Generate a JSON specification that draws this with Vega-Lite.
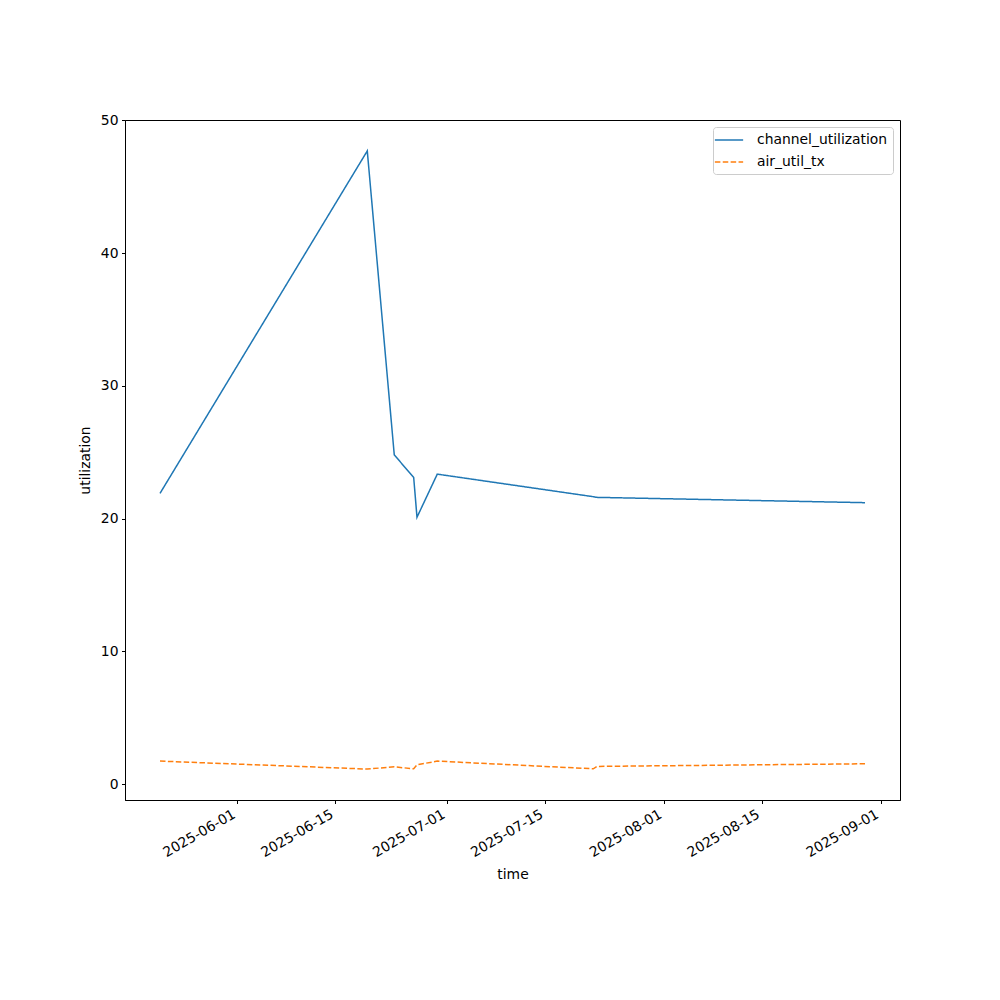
{
  "$schema": "https://vega.github.io/schema/vega-lite/v6.json",
  "width": 775,
  "height": 680,
  "autosize": {"type": "none"},
  "padding": {"left": 125, "top": 120, "right": 100, "bottom": 200},
  "background": "white",
  "config": {
    "font": "DejaVu Sans",
    "view": {"stroke": "black", "strokeWidth": 1},
    "axis": {
      "grid": false,
      "domainColor": "black",
      "domainWidth": 1,
      "tickColor": "black",
      "tickSize": 3.5,
      "tickWidth": 1,
      "labelColor": "black",
      "labelFontSize": 13.9,
      "labelPadding": 3.5,
      "titleColor": "black",
      "titleFontSize": 13.9,
      "titleFontWeight": "normal"
    }
  },
  "data": {
    "values": [
      {"time": "2025-05-20T22:00:00Z", "series": "channel_utilization", "utilization": 21.9},
      {"time": "2025-06-19T13:40:00Z", "series": "channel_utilization", "utilization": 47.7},
      {"time": "2025-06-23T10:20:00Z", "series": "channel_utilization", "utilization": 24.8},
      {"time": "2025-06-26T05:00:00Z", "series": "channel_utilization", "utilization": 23.1},
      {"time": "2025-06-26T16:20:00Z", "series": "channel_utilization", "utilization": 20.1},
      {"time": "2025-06-29T14:00:00Z", "series": "channel_utilization", "utilization": 23.35},
      {"time": "2025-07-21T21:40:00Z", "series": "channel_utilization", "utilization": 21.65},
      {"time": "2025-07-22T10:20:00Z", "series": "channel_utilization", "utilization": 21.6},
      {"time": "2025-08-29T18:30:00Z", "series": "channel_utilization", "utilization": 21.2},
      {"time": "2025-05-20T22:00:00Z", "series": "air_util_tx", "utilization": 1.73},
      {"time": "2025-06-19T13:40:00Z", "series": "air_util_tx", "utilization": 1.13},
      {"time": "2025-06-23T10:20:00Z", "series": "air_util_tx", "utilization": 1.3},
      {"time": "2025-06-26T05:00:00Z", "series": "air_util_tx", "utilization": 1.15},
      {"time": "2025-06-26T16:20:00Z", "series": "air_util_tx", "utilization": 1.45},
      {"time": "2025-06-29T14:00:00Z", "series": "air_util_tx", "utilization": 1.73},
      {"time": "2025-07-21T21:40:00Z", "series": "air_util_tx", "utilization": 1.15},
      {"time": "2025-07-22T10:20:00Z", "series": "air_util_tx", "utilization": 1.33},
      {"time": "2025-08-29T18:30:00Z", "series": "air_util_tx", "utilization": 1.53}
    ]
  },
  "mark": {"type": "line", "strokeWidth": 1.5},
  "encoding": {
    "x": {
      "field": "time",
      "type": "temporal",
      "title": "time",
      "scale": {
        "type": "utc",
        "domain": [
          {"year": 2025, "month": 5, "date": 15, "hours": 21, "minutes": 50, "utc": true},
          {"year": 2025, "month": 9, "date": 3, "hours": 18, "minutes": 40, "utc": true}
        ]
      },
      "axis": {
        "values": [
          {"year": 2025, "month": 6, "date": 1, "utc": true},
          {"year": 2025, "month": 6, "date": 15, "utc": true},
          {"year": 2025, "month": 7, "date": 1, "utc": true},
          {"year": 2025, "month": 7, "date": 15, "utc": true},
          {"year": 2025, "month": 8, "date": 1, "utc": true},
          {"year": 2025, "month": 8, "date": 15, "utc": true},
          {"year": 2025, "month": 9, "date": 1, "utc": true}
        ],
        "labelExpr": "utcFormat(datum.value, '%Y-%m-%d')",
        "labelAngle": -30,
        "labelAlign": "right",
        "labelBaseline": "top",
        "labelOffset": -7,
        "labelFlush": false,
        "labelOverlap": false,
        "titlePadding": 8
      }
    },
    "y": {
      "field": "utilization",
      "type": "quantitative",
      "title": "utilization",
      "scale": {"domain": [-1.2, 50.03], "nice": false, "zero": false},
      "axis": {"values": [0, 10, 20, 30, 40, 50], "titlePadding": 8}
    },
    "color": {
      "field": "series",
      "type": "nominal",
      "scale": {"domain": ["channel_utilization", "air_util_tx"], "range": ["#1f77b4", "#ff7f0e"]},
      "legend": {
        "title": null,
        "orient": "top-right",
        "offset": 7,
        "padding": 5,
        "strokeColor": "#cccccc",
        "cornerRadius": 3,
        "fillColor": "white",
        "labelFontSize": 13.9,
        "labelColor": "black",
        "symbolType": "M-2,0L2,0",
        "symbolSize": 200,
        "symbolStrokeWidth": 1.5,
        "symbolOffset": 3,
        "labelOffset": 20,
        "rowPadding": 7
      }
    },
    "strokeDash": {
      "field": "series",
      "type": "nominal",
      "scale": {"domain": ["channel_utilization", "air_util_tx"], "range": [[1, 0], [5.5, 2.4]]},
      "legend": {
        "title": null,
        "orient": "top-right",
        "offset": 7,
        "padding": 5,
        "strokeColor": "#cccccc",
        "cornerRadius": 3,
        "fillColor": "white",
        "labelFontSize": 13.9,
        "labelColor": "black",
        "symbolType": "M-2,0L2,0",
        "symbolSize": 200,
        "symbolStrokeWidth": 1.5,
        "symbolOffset": 3,
        "labelOffset": 20,
        "rowPadding": 7
      }
    }
  }
}
